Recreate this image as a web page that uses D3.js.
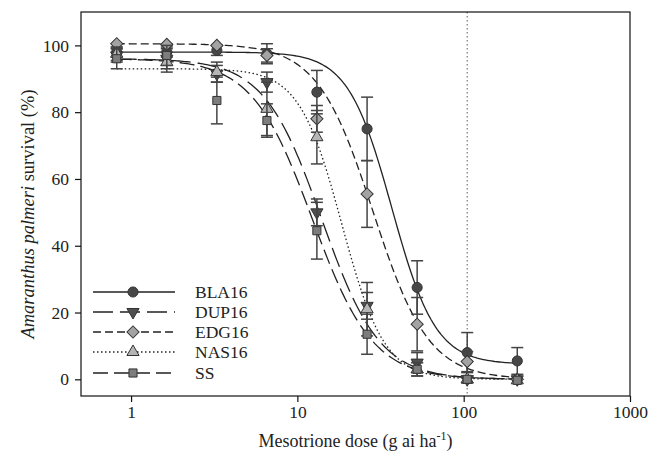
<!DOCTYPE html>
<html>
<head>
<meta charset="utf-8">
<script src="https://cdn.jsdelivr.net/npm/d3@7"></script>
<style>
  body { margin: 0; background: #fff; }
  svg text { font-family: "Liberation Serif", "Times New Roman", serif; fill: #222; }
</style>
</head>
<body>
<svg id="chart"></svg>
<script>
// doses (g ai/ha) and survival (%)
var doses = [0.82, 1.64, 3.28, 6.56, 13.1, 26.25, 52.5, 105, 210];
var names = ["BLA16", "DUP16", "EDG16", "NAS16", "SS"];
var bla16 = [98, 98, 98.5, 97.5, 86, 75, 27.5, 8, 5.5];
var dup16 = [97, 96, 91.5, 89, 50, 22, 5, 0, 0];
var edg16 = [100.5, 100.3, 100, 97, 78, 55.5, 16.5, 5.3, 0];
var nas16 = [97.5, 95, 92, 81, 72.5, 21, 3, 0, -0.3];
var ss = [96, 97, 83.5, 77.5, 44.5, 13.5, 3, 0, -0.3];
// standard errors
var blaErr = [1.5, 1.5, 1.5, 3, 6.5, 9.5, 8, 6, 4];
var dupErr = [2, 3, 2.5, 3, 4, 4, 3, 1, 0.5];
var edgErr = [0.5, 0.5, 0.5, 2, 4, 10, 8, 3, 0.5];
var nasErr = [2, 3, 3, 8, 8, 8, 2, 1, 0.5];
var ssErr = [3, 3, 7, 5, 8.5, 6, 2, 1, 0.5];
// fitted log-logistic parameters: upper, lower, ED50, slope
var fitUpper = [98, 96, 100.5, 93, 96];
var fitLower = [4.5, 0, 0, 0, 0];
var fitED50 = [37, 14, 28.5, 18.5, 12.3];
var fitSlope = [3.3, 2.5, 2.6, 3.4, 2.4];
var xTicks = [1, 10, 100, 1000];
var yTicks = [0, 20, 40, 60, 80, 100];
var labelRate = 105;

var svgWidth = 649, svgHeight = 464;
var plotL = 81, plotR = 630, plotT = 12, plotB = 396;
var svg = d3.select("#chart").attr("width", svgWidth).attr("height", svgHeight);

var x = d3.scaleLog().domain([0.5, 1000]).range([plotL, plotR]);
var y = d3.scaleLinear().domain([-5, 110]).range([plotB, plotT]);

var values = [bla16, dup16, edg16, nas16, ss];
var errs = [blaErr, dupErr, edgErr, nasErr, ssErr];
var dashes = [null, "20,7", "8,4", "1.5,2.5", "15,6"];
var fills = ["#474747", "#505050", "#a3a3a3", "#b5b5b5", "#7d7d7d"];
var shapes = [
  { type: d3.symbolCircle, size: 80, rot: 0 },
  { type: d3.symbolTriangle, size: 64, rot: 180 },
  { type: d3.symbolSquare, size: 74, rot: 45 },
  { type: d3.symbolTriangle, size: 64, rot: 0 },
  { type: d3.symbolSquare, size: 66, rot: 0 }
];

// reference rate line
svg.append("line")
  .attr("x1", x(labelRate)).attr("x2", x(labelRate))
  .attr("y1", plotT).attr("y2", plotB)
  .attr("stroke", "#777").attr("stroke-width", 1.2)
  .attr("stroke-dasharray", "1.5,2.5");

// fitted curves
var fitLine = d3.line().x(function (d) { return x(d[0]); }).y(function (d) { return y(d[1]); });
names.forEach(function (n, i) {
  var pts = d3.range(0, 201).map(function (k) {
    var dose = Math.exp(Math.log(doses[0]) + k / 200 * (Math.log(doses[8]) - Math.log(doses[0])));
    var v = fitLower[i] + (fitUpper[i] - fitLower[i]) / (1 + Math.exp(fitSlope[i] * (Math.log(dose) - Math.log(fitED50[i]))));
    return [dose, v];
  });
  svg.append("path").attr("d", fitLine(pts))
    .attr("fill", "none").attr("stroke", "#222").attr("stroke-width", 1.3)
    .attr("stroke-dasharray", dashes[i]);
});

// error bars and markers
names.forEach(function (n, i) {
  var g = svg.append("g");
  doses.forEach(function (d, j) {
    var v = values[i][j], e = errs[i][j], cx = x(d);
    if (e > 0.6) {
      g.append("line").attr("x1", cx).attr("x2", cx).attr("y1", y(v - e)).attr("y2", y(v + e))
        .attr("stroke", "#444").attr("stroke-width", 1.5);
      [v - e, v + e].forEach(function (b) {
        g.append("line").attr("x1", cx - 6).attr("x2", cx + 6).attr("y1", y(b)).attr("y2", y(b))
          .attr("stroke", "#444").attr("stroke-width", 1.5);
      });
    }
  });
  g.selectAll("path.m").data(doses).enter().append("path")
    .attr("d", d3.symbol().type(shapes[i].type).size(shapes[i].size))
    .attr("transform", function (d, j) {
      return "translate(" + x(d) + "," + y(values[i][j]) + ") rotate(" + shapes[i].rot + ")";
    })
    .attr("fill", fills[i]).attr("stroke", "#333").attr("stroke-width", 1);
});

// frame
svg.append("rect").attr("x", plotL).attr("y", plotT).attr("width", plotR - plotL).attr("height", plotB - plotT)
  .attr("fill", "none").attr("stroke", "#111").attr("stroke-width", 1.2);

var xAxis = svg.append("g").attr("transform", "translate(0," + plotB + ")")
  .call(d3.axisBottom(x).tickValues(xTicks).tickFormat(d3.format("d")).tickSize(6).tickPadding(4));
var yAxis = svg.append("g").attr("transform", "translate(" + plotL + ",0)")
  .call(d3.axisLeft(y).tickValues(yTicks).tickSize(6).tickPadding(6));
[xAxis, yAxis].forEach(function (a) {
  a.select(".domain").remove();
  a.selectAll("line").attr("stroke", "#111").attr("stroke-width", 1.2);
  a.selectAll("text").style("font-size", "17.5px")
    .style("font-family", "'Liberation Serif', 'Times New Roman', serif").attr("fill", "#222");
});

// axis titles
var xt = svg.append("text").attr("x", (plotL + plotR) / 2).attr("y", 447)
  .attr("text-anchor", "middle").style("font-size", "18px");
xt.append("tspan").text("Mesotrione dose (g ai ha");
xt.append("tspan").attr("dy", -7).style("font-size", "12px").text("-1");
xt.append("tspan").attr("dy", 7).text(")");

var yt = svg.append("text").attr("transform", "translate(34," + ((plotT + plotB) / 2 + 10) + ") rotate(-90)")
  .attr("text-anchor", "middle").style("font-size", "18.5px");
yt.append("tspan").style("font-style", "italic").text("Amaranthus palmeri");
yt.append("tspan").text(" survival (%)");

// legend
var legendY = [292, 312, 332, 352, 373];
names.forEach(function (n, i) {
  var ly = legendY[i];
  svg.append("line").attr("x1", 93).attr("x2", 175).attr("y1", ly).attr("y2", ly)
    .attr("stroke", "#222").attr("stroke-width", 1.3).attr("stroke-dasharray", dashes[i]);
  svg.append("path").attr("d", d3.symbol().type(shapes[i].type).size(shapes[i].size))
    .attr("transform", "translate(133," + ly + ") rotate(" + shapes[i].rot + ")")
    .attr("fill", fills[i]).attr("stroke", "#333").attr("stroke-width", 1);
  svg.append("text").attr("x", 195).attr("y", ly + 6).style("font-size", "17.5px").text(n);
});
</script>
</body>
</html>
